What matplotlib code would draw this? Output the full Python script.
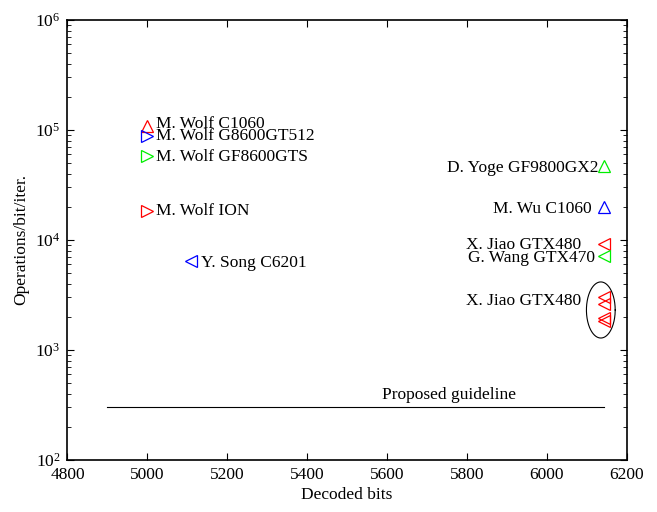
import numpy as np
import matplotlib
matplotlib.use('Agg')
import matplotlib.pyplot as plt

plt.rcParams['font.family'] = ['Liberation Serif', 'DejaVu Serif']
plt.rcParams['mathtext.fontset'] = 'stix'
plt.rcParams['font.size'] = 12.5

# decoders: (label, bits, ops/bit/iter, marker, colour)
names = ['M. Wolf C1060', 'M. Wolf G8600GT512', 'M. Wolf GF8600GTS', 'M. Wolf ION',
         'Y. Song C6201', 'D. Yoge GF9800GX2', 'M. Wu C1060', 'X. Jiao GTX480',
         'G. Wang GTX470', 'X. Jiao GTX480', '', '', '']
bits = [5000, 5000, 5000, 5000, 5110, 6144, 6144, 6144, 6144, 6144, 6144, 6144, 6144]
ops = [1.08e5, 8.8e4, 5.8e4, 1.84e4, 6.4e3, 4.7e4, 2.0e4, 9.1e3, 7.2e3,
       3.0e3, 2.6e3, 1.95e3, 1.85e3]
markers = ['^', '>', '>', '>', '<', '^', '^', '<', '<', '<', '<', '<', '<']
colors = ['#ff0000', '#0000ff', '#00ee00', '#ff0000', '#0000ff', '#00ee00', '#0000ff',
          '#ff0000', '#00ee00', '#ff0000', '#ff0000', '#ff0000', '#ff0000']
# label offsets in points
lab_dx = [6, 6, 6, 6, 7, -4, -9, -17, -7, -17, 0, 0, 0]
lab_dy = [2, 0, -1, 0, -1, -1.5, -1.5, -0.5, -1.5, -2.5, 0, 0, 0]

guide_bits = [4900, 6144]
guide_ops = [300, 300]

# ellipse round the GTX480 cluster
ell_x, ell_y = 6135, 2310
ell_a, ell_b = 36, 0.255  # bits, decades

fig = plt.figure(figsize=(6.57, 5.12), dpi=100)
ax = fig.add_axes([0.1027, 0.1016, 0.8513, 0.8594])

for i in range(len(bits)):
    ax.plot(bits[i], ops[i], marker=markers[i], color=colors[i], mfc='none',
            ms=8.5, mew=0.9, linestyle='none')
    if names[i]:
        ha = 'left' if lab_dx[i] > 0 else 'right'
        ax.annotate(names[i], (bits[i], ops[i]), xytext=(lab_dx[i], lab_dy[i]),
                    textcoords='offset points', ha=ha, va='center')

ax.plot(guide_bits, guide_ops, 'k-', lw=0.8)
ax.annotate('Proposed guideline', (guide_bits[1], guide_ops[1]), xytext=(-64, 3),
            textcoords='offset points', ha='right', va='bottom')

t = np.linspace(0, 2 * np.pi, 200)
ax.plot(ell_x + ell_a * np.cos(t), ell_y * 10 ** (ell_b * np.sin(t)), 'k-', lw=0.8)

ax.set_yscale('log')
ax.set_xlim(4800, 6200)
ax.set_ylim(1e2, 1e6)
ax.set_xticks(np.arange(4800, 6201, 200))
ax.set_xlabel('Decoded bits', labelpad=3)
ax.set_ylabel('Operations/bit/iter.', labelpad=4)
ax.tick_params(which='both', direction='in', top=True, right=True)
ax.tick_params(which='major', length=5, pad=5)
ax.tick_params(which='minor', length=3)
for s in ax.spines.values():
    s.set_linewidth(1.2)

plt.savefig('out.png', dpi=100)
